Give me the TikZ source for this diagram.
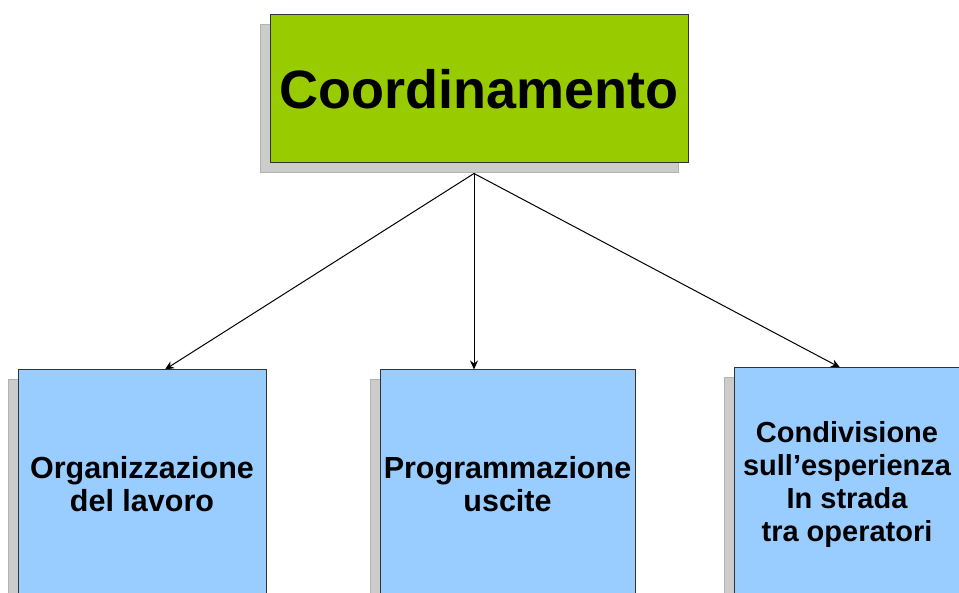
\documentclass[tikz,border=0pt]{standalone}
\usepackage{fontspec}
\setmainfont{Liberation Sans}
\usetikzlibrary{arrows.meta,shadows}
\definecolor{rootgreen}{HTML}{99CC00}
\definecolor{leafblue}{HTML}{99CCFF}

\begin{document}
\begin{tikzpicture}[x=1pt,y=-1pt,
  shade box/.style={draw=black!80,line width=1pt,general shadow={fill=gray!40,draw=gray!60,shadow xshift=-10pt,shadow yshift=-10pt}},
  root/.style={shade box,fill=rootgreen,minimum width=418pt,minimum height=148pt,font=\fontsize{54}{60}\selectfont\bfseries},
  leaf/.style={shade box,fill=leafblue,minimum height=228pt,align=center,inner sep=0pt,font=\fontsize{30.5}{33}\selectfont\bfseries},
  link/.style={-{Stealth[length=9pt,width=8pt]},line width=1pt}]
    \useasboundingbox (0,0) rectangle (959,593);
    \node[root] (coord) at (479,89) {Coordinamento};
    \node[leaf,minimum width=248pt] (org) at (142,484) {Organizzazione\\del lavoro};
    \node[leaf,minimum width=255pt] (prog) at (507.5,484) {Programmazione\\uscite};
    \node[leaf,minimum width=226pt,minimum height=234pt,font=\fontsize{29}{33}\selectfont\bfseries] (cond) at (847,485) {Condivisione \\sull’esperienza\\In strada\\ tra operatori};
    \coordinate (fork) at ([xshift=-5pt,yshift=-10pt]coord.south);
    \draw[link] (fork) -- ([xshift=23pt]org.north);
    \draw[link] (fork) -- ([xshift=-33.5pt]prog.north);
    \draw[link] (fork) -- ([xshift=-7pt]cond.north);
  \end{tikzpicture}
\end{document}
